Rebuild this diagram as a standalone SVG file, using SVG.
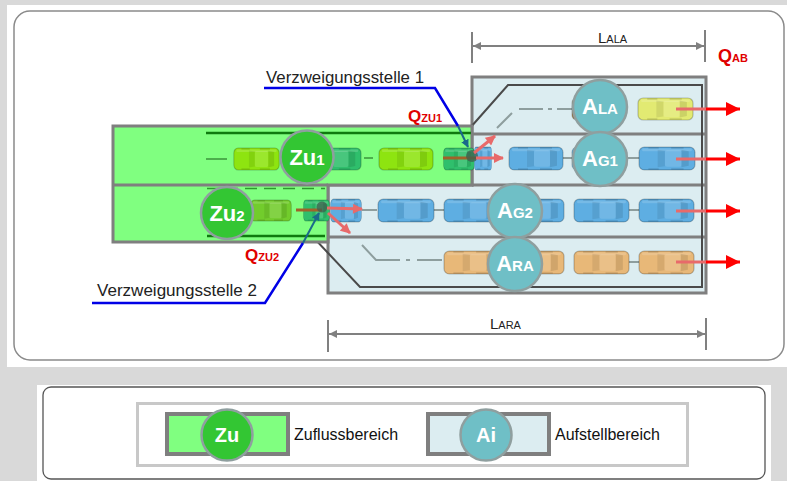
<svg xmlns="http://www.w3.org/2000/svg" width="787" height="481" viewBox="0 0 787 481">
  <defs>
    <style>
      text { font-family: "Liberation Sans", Arial, sans-serif; }
      .frame { fill: #ffffff; stroke: #8a8a8a; stroke-width: 1.5; }
      .zone-green { fill: #80ff80; stroke: #7f7f7f; stroke-width: 3; stroke-linejoin: miter; }
      .zone-blue { fill: #dcedf1; stroke: #7f7f7f; stroke-width: 3; stroke-linejoin: miter; }
      .divider { stroke: #7f7f7f; stroke-width: 3; fill: none; }
      .curb { stroke: #4a4a4a; stroke-width: 2; fill: none; }
      .center { stroke: #8e9e9e; stroke-width: 2; fill: none; }
      .mark-green { stroke: #0f7a0f; stroke-width: 2.5; fill: none; }
      .circ-a { fill: #6fbfc6; stroke: #8f9f9f; stroke-width: 2.5; }
      .circ-z { fill: #33c633; stroke: #8f9f9f; stroke-width: 2.5; }
      .lbl-circ { fill: #ffffff; font-weight: bold; text-anchor: middle; }
      .flow { stroke: #e86a6a; stroke-width: 3; fill: none; }
      .exit { stroke: #ff0000; stroke-width: 3; fill: none; }
      .dim { stroke: #808080; stroke-width: 2; fill: none; }
      .dimlbl { fill: #222222; }
      .q { fill: #e00000; font-weight: bold; }
      .callout { stroke: #0000e6; stroke-width: 2.5; fill: none; }
      .pointer { stroke: #1a6a8a; stroke-width: 2; fill: none; }
      .note { fill: #222222; font-size: 16px; }
      .legend-txt { fill: #111111; font-size: 16px; }
    </style>
    <!-- top view of a car, facing right; body colour comes from the fill of each <use> -->
    <symbol id="car" viewBox="0 0 56 24" preserveAspectRatio="none">
      <rect x="1" y="1" width="54" height="22" rx="5" stroke="#000" stroke-opacity="0.22" stroke-width="1.2"/>
      <rect x="4" y="2.5" width="48" height="2.5" rx="1" fill="#fff" fill-opacity="0.15"/>
      <path d="M19 3.5 L26 4.5 L26 19.5 L19 20.5 Z" fill="#000" fill-opacity="0.08"/>
      <rect x="26" y="4" width="16" height="16" rx="2" fill="#fff" fill-opacity="0.12"/>
      <path d="M42 3.5 L49 5 L49 19 L42 20.5 Z" fill="#000" fill-opacity="0.1"/>
      <path d="M10 22 L20 22 M32 22 L44 22 M10 2 L20 2 M32 2 L44 2" stroke="#000" stroke-opacity="0.18" stroke-width="1"/>
    </symbol>
    <marker id="hd-flow" viewBox="0 0 10 10" refX="9" refY="5" markerWidth="11" markerHeight="10" markerUnits="userSpaceOnUse" orient="auto">
      <path d="M0,0 L10,5 L0,10 Z" fill="#e86a6a"/>
    </marker>
    <marker id="hd-exit" viewBox="0 0 10 10" refX="10" refY="5" markerWidth="14" markerHeight="14" markerUnits="userSpaceOnUse" orient="auto">
      <path d="M0,0 L10,5 L0,10 Z" fill="#ff0000"/>
    </marker>
    <marker id="hd-dim" viewBox="0 0 10 10" refX="10" refY="5" markerWidth="9" markerHeight="8" markerUnits="userSpaceOnUse" orient="auto-start-reverse">
      <path d="M0,0 L10,5 L0,10 Z" fill="#808080"/>
    </marker>
    <marker id="hd-ptr" viewBox="0 0 10 10" refX="9" refY="5" markerWidth="8" markerHeight="8" markerUnits="userSpaceOnUse" orient="auto">
      <path d="M0,0 L10,5 L0,10 Z" fill="#1a6a8a"/>
    </marker>
  </defs>

  <!-- page background -->
  <rect x="0" y="0" width="787" height="481" fill="#d9d9d9"/>
  <rect x="7" y="5" width="780" height="362" fill="#ffffff"/>
  <rect class="frame" x="14" y="11" width="770" height="349" rx="16"/>

  <!-- storage zone (Aufstellbereich) -->
  <g id="aufstellbereich">
    <path class="zone-blue" d="M472 77 L706 77 L706 293 L328 293 L328 185 L472 185 Z"/>
    <path class="divider" d="M472 134 L706 134 M472 185 L706 185 M328 237 L706 237"/>
    <path class="curb" d="M470 128 L508 85 L702 85 L702 288"/>
    <path class="curb" d="M313 237 L360 287 L702 287"/>
    <path class="center" d="M497 128 L512 113 M519 109 L543 109 M548 109 L552 109 M557 109 L572 109"/>
    <path class="center" d="M362 245 L376 260 L400 260 M406 260 L410 260 M417 260 L442 260"/>
    <path class="center" d="M563 158 L640 158 M362 210 L377 210 M420 210 L444 210 M628 210 L640 210 M626 262 L640 262"/>
  </g>

  <!-- inflow zone (Zuflussbereich) -->
  <g id="zuflussbereich">
    <path class="zone-green" d="M113 126 L472 126 L472 185 L328 185 L328 242 L113 242 Z"/>
    <path class="divider" d="M113 185 L328 185"/>
    <path class="mark-green" d="M206 133 L471 133"/>
    <path d="M207 188.5 L325 188.5" stroke="#2f9a2f" stroke-width="1.5" stroke-dasharray="12 7"/>
    <path class="mark-green" d="M207 236 L325 236"/>
    <path d="M206 159 L227 159 M364 158 L373 158" stroke="#4cae4c" stroke-width="2"/>
  </g>

  <!-- vehicles -->
  <g id="fahrzeuge">
    <!-- Zu1 lane -->
    <use href="#car" x="233" y="147" width="47" height="24" fill="#8ee410"/>
    <use href="#car" x="308" y="147" width="54" height="24" fill="#2fbf6c"/>
    <use href="#car" x="378" y="147" width="56" height="24" fill="#8ee410"/>
    <use href="#car" x="443" y="147" width="32" height="24" fill="#2fbf6c"/>
    <!-- Zu2 lane -->
    <use href="#car" x="250" y="199" width="42" height="23" fill="#72cc2c"/>
    <use href="#car" x="303" y="199" width="27" height="23" fill="#2fbf6c"/>
    <!-- ALA lane -->
    <use href="#car" x="571" y="97" width="56" height="24" fill="#a08050"/>
    <use href="#car" x="637" y="97" width="57" height="24" fill="#e2ea72"/>
    <!-- AG1 lane -->
    <use href="#car" x="474" y="146" width="18" height="25" fill="#5eaee2"/>
    <use href="#car" x="508" y="146" width="56" height="25" fill="#5eaee2"/>
    <use href="#car" x="571" y="146" width="57" height="25" fill="#5eaee2"/>
    <use href="#car" x="638" y="146" width="58" height="25" fill="#5eaee2"/>
    <!-- AG2 lane -->
    <use href="#car" x="330" y="198" width="32" height="25" fill="#5eaee2"/>
    <use href="#car" x="377" y="198" width="58" height="25" fill="#5eaee2"/>
    <use href="#car" x="443" y="198" width="58" height="25" fill="#5eaee2"/>
    <use href="#car" x="508" y="198" width="57" height="25" fill="#5eaee2"/>
    <use href="#car" x="573" y="198" width="57" height="25" fill="#5eaee2"/>
    <use href="#car" x="638" y="198" width="57" height="25" fill="#5eaee2"/>
    <!-- ARA lane -->
    <use href="#car" x="443" y="250" width="58" height="25" fill="#e8b878"/>
    <use href="#car" x="508" y="250" width="57" height="25" fill="#e8b878"/>
    <use href="#car" x="573" y="250" width="57" height="25" fill="#e8b878"/>
    <use href="#car" x="638" y="250" width="57" height="25" fill="#e8b878"/>
  </g>

  <!-- connectors: branching flows, exits, call-outs, dimensions -->
  <g id="connectors">
    <path d="M443 158 L476 158 M296 210 L322 210" stroke="#a0622a" stroke-width="3"/>
    <circle cx="472" cy="156" r="6" fill="#3f5f4f" fill-opacity="0.75"/>
    <circle cx="322" cy="207" r="5.5" fill="#3f5f4f" fill-opacity="0.75"/>

    <path class="flow" d="M476 158 L503 158" marker-end="url(#hd-flow)"/>
    <path class="flow" d="M474 153 L495 136" marker-end="url(#hd-flow)"/>
    <path class="flow" d="M327 208 L362 209" marker-end="url(#hd-flow)"/>
    <path class="flow" d="M328 213 L350 233" marker-end="url(#hd-flow)"/>

    <path class="flow" d="M676 109 L707 109 M676 159 L707 159 M676 211 L707 211 M676 262 L707 262"/>
    <path class="exit" d="M706 109 L740 109" marker-end="url(#hd-exit)"/>
    <path class="exit" d="M706 159 L740 159" marker-end="url(#hd-exit)"/>
    <path class="exit" d="M706 211 L740 211" marker-end="url(#hd-exit)"/>
    <path class="exit" d="M706 262 L740 262" marker-end="url(#hd-exit)"/>

    <path class="callout" d="M264 88 L435 88 L458 126"/>
    <path class="pointer" d="M458 126 L468 147" marker-end="url(#hd-ptr)"/>
    <path class="callout" d="M92 303 L265 303 L303 243"/>
    <path class="pointer" d="M303 243 L319 213" marker-end="url(#hd-ptr)"/>

    <path class="dim" d="M472 32 L472 63 M705 30 L705 62"/>
    <path class="dim" d="M473 46 L704 46" marker-start="url(#hd-dim)" marker-end="url(#hd-dim)"/>
    <path class="dim" d="M328 320 L328 352 M706 318 L706 350"/>
    <path class="dim" d="M329 334 L705 334" marker-start="url(#hd-dim)" marker-end="url(#hd-dim)"/>
  </g>

  <!-- zone markers -->
  <g id="node-zu1">
    <circle class="circ-z" cx="307" cy="157" r="26.5"/>
    <text class="lbl-circ" x="307" y="165"><tspan font-size="22">Zu</tspan><tspan font-size="15">1</tspan></text>
  </g>
  <g id="node-zu2">
    <circle class="circ-z" cx="227" cy="213" r="26"/>
    <text class="lbl-circ" x="227" y="221"><tspan font-size="22">Zu</tspan><tspan font-size="15">2</tspan></text>
  </g>
  <g id="node-ala">
    <circle class="circ-a" cx="600" cy="107" r="27"/>
    <text class="lbl-circ" x="600" y="114"><tspan font-size="22">A</tspan><tspan font-size="15">LA</tspan></text>
  </g>
  <g id="node-ag1">
    <circle class="circ-a" cx="600" cy="159" r="27"/>
    <text class="lbl-circ" x="600" y="166"><tspan font-size="22">A</tspan><tspan font-size="15">G1</tspan></text>
  </g>
  <g id="node-ag2">
    <circle class="circ-a" cx="515" cy="211" r="27"/>
    <text class="lbl-circ" x="515" y="218"><tspan font-size="22">A</tspan><tspan font-size="15">G2</tspan></text>
  </g>
  <g id="node-ara">
    <circle class="circ-a" cx="515" cy="264" r="27"/>
    <text class="lbl-circ" x="515" y="271"><tspan font-size="22">A</tspan><tspan font-size="15">RA</tspan></text>
  </g>

  <!-- labels -->
  <g id="labels">
    <text class="note" x="266" y="83" textLength="158" lengthAdjust="spacingAndGlyphs">Verzweigungsstelle 1</text>
    <text class="note" x="97" y="296" textLength="160" lengthAdjust="spacingAndGlyphs">Verzweigungsstelle 2</text>
    <text class="q" x="408" y="122"><tspan font-size="17">Q</tspan><tspan font-size="11">ZU1</tspan></text>
    <text class="q" x="245" y="261"><tspan font-size="17">Q</tspan><tspan font-size="11">ZU2</tspan></text>
    <text class="q" x="718" y="62"><tspan font-size="18">Q</tspan><tspan font-size="11">AB</tspan></text>
    <text class="dimlbl" x="598" y="43"><tspan font-size="15">L</tspan><tspan font-size="11">ALA</tspan></text>
    <text class="dimlbl" x="490" y="329"><tspan font-size="15">L</tspan><tspan font-size="11">ARA</tspan></text>
  </g>

  <!-- legend -->
  <rect x="37" y="385" width="734" height="96" fill="#ffffff"/>
  <rect x="43" y="387" width="722" height="92" rx="8" fill="#ffffff" stroke="#555555" stroke-width="1.3"/>
  <rect x="137.5" y="403.5" width="550" height="62" fill="#ffffff" stroke="#c8c8c8" stroke-width="3"/>
  <g id="legend-zu">
    <rect x="167" y="414" width="121" height="40" fill="#80ff80" stroke="#7f7f7f" stroke-width="4"/>
    <circle class="circ-z" cx="227" cy="435" r="25.5"/>
    <text class="lbl-circ" x="227" y="442" font-size="20">Zu</text>
    <text class="legend-txt" x="294" y="440">Zuflussbereich</text>
  </g>
  <g id="legend-ai">
    <rect x="428" y="414" width="121" height="40" fill="#dcedf1" stroke="#7f7f7f" stroke-width="4"/>
    <circle class="circ-a" cx="486" cy="435" r="25.5"/>
    <text class="lbl-circ" x="486" y="442" font-size="20">Ai</text>
    <text class="legend-txt" x="555" y="440">Aufstellbereich</text>
  </g>
</svg>
